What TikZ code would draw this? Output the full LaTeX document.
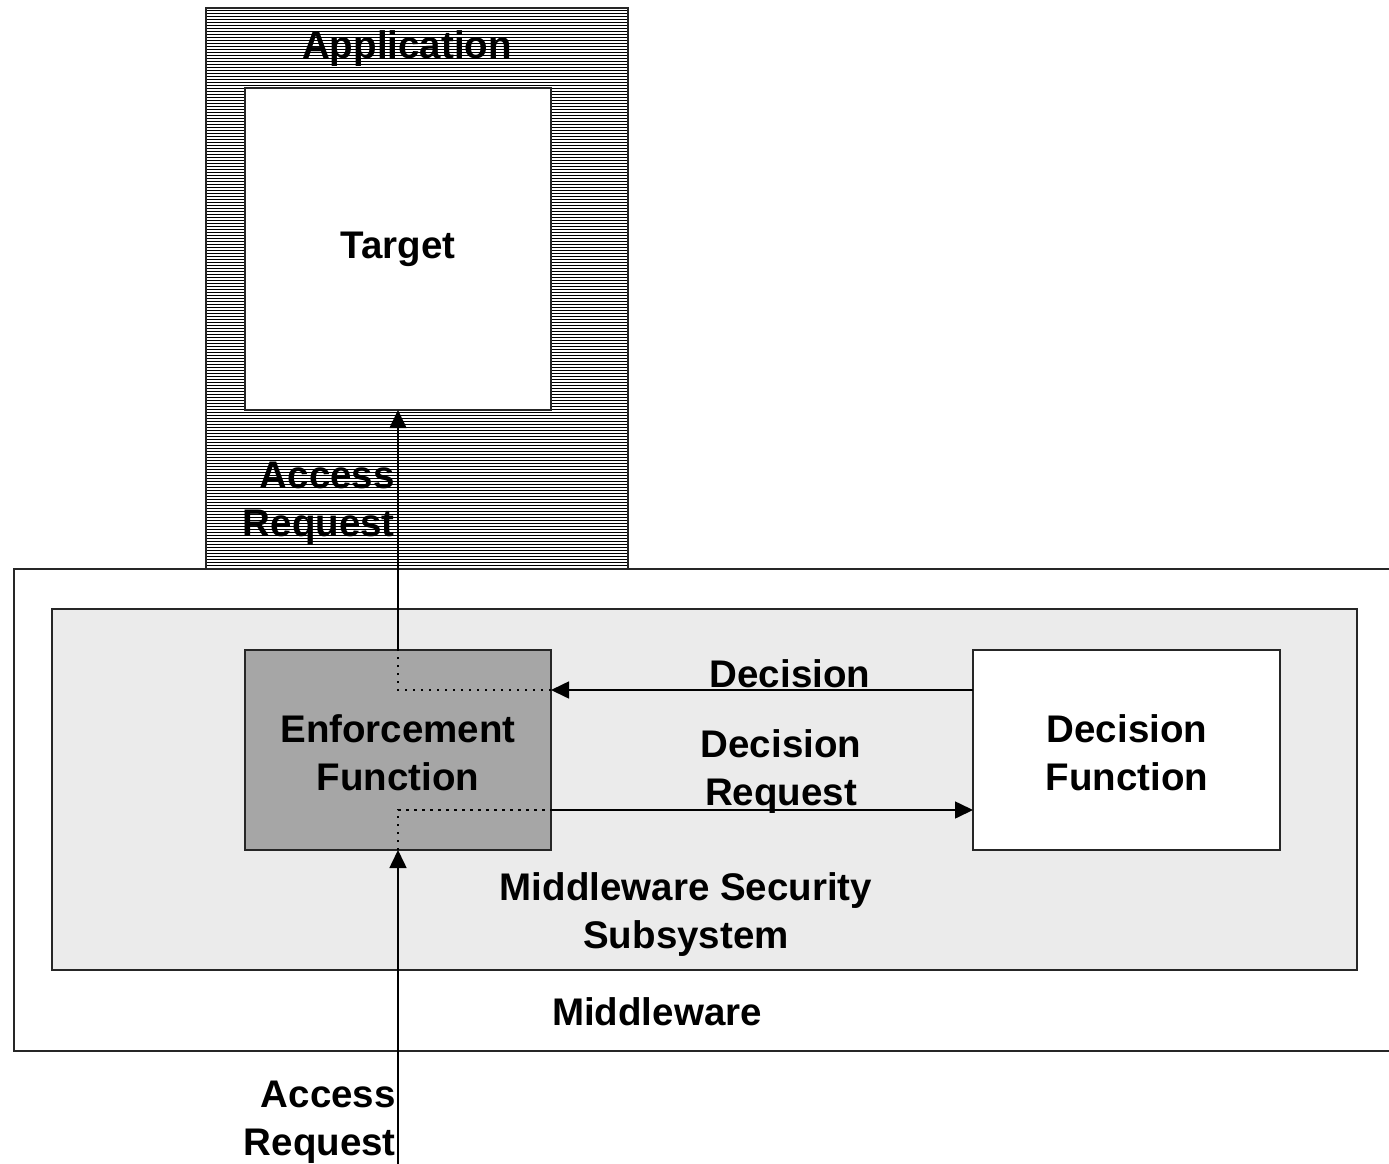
\documentclass[tikz,border=0pt]{standalone}
\usepackage{fontspec}
\setmainfont{Liberation Sans}
\usetikzlibrary{arrows.meta}
\begin{document}
\begin{tikzpicture}[x=1pt,y=-1pt,
  box/.style={draw=black!85,line width=1.5pt,inner sep=0pt,outer sep=0pt},
  lbl/.style={font=\bfseries\fontsize{38.5}{48}\selectfont,align=center,inner sep=0pt},
  lblr/.style={font=\bfseries\fontsize{38.5}{48}\selectfont,align=right,inner sep=0pt},
  conn/.style={line width=1.6pt,-{Triangle[length=18pt,width=17pt]}},
  dots/.style={line width=1.8pt,dash pattern=on 2.5pt off 5.5pt}]
\useasboundingbox (0,0) rectangle (1389,1164);
\fill[white] (0,0) rectangle (1389,1164);
% Application (hatched)
\node[box,fill=white,minimum width=422pt,minimum height=561pt] (app) at (417,288.5) {};
\begin{scope}
\clip (206,8) rectangle (628,569);
\foreach \yy in {10,13,...,568} \draw[line width=0.95pt,black] (206,\yy) -- (628,\yy);
\end{scope}
\draw[draw=black!85,line width=1.5pt] (206,8) rectangle (628,569);
\node[lbl] (applbl) at (407,49) {Application};
% Target
\node[box,fill=white,minimum width=306pt,minimum height=322pt] (target) at (398,249) {};
\node[lbl] (tgtlbl) at (398,249) {Target};
\node[lblr,anchor=east] (ar1) at (395,503) {Access\\Request};
% Middleware (open on the right)
\draw[draw=black!85,line width=1.5pt,fill=white] (1389,569) -- (14,569) -- (14,1051) -- (1389,1051);
\node[lbl] (mwlbl) at (657,1012) {Middleware};
% Middleware Security Subsystem
\node[box,fill=black!8,minimum width=1305pt,minimum height=361pt] (mss) at (704.5,789.5) {};
\node[lbl] (msslbl) at (686,915) {Middleware Security\\Subsystem};
% Enforcement and decision functions
\node[box,fill=black!35,minimum width=306pt,minimum height=200pt] (ef) at (398,750) {};
\node[lbl] (eflbl) at (398,753) {Enforcement\\Function};
\node[box,fill=white,minimum width=307pt,minimum height=200pt] (df) at (1126.5,750) {};
\node[lbl] (dflbl) at (1127,753) {Decision\\Function};
% connectors
\coordinate (inbot) at (398,1166);
\coordinate (reqbend) at (398,810);
\coordinate (efreq) at (551,810);
\coordinate (dfreq) at (973,810);
\coordinate (dfdec) at (973,690);
\coordinate (efdec) at (551,690);
\coordinate (decbend) at (398,690);
\draw[conn] (inbot) -- (ef.south);
\draw[dots] (ef.south) -- (reqbend) -- (efreq);
\draw[conn] (efreq) -- (dfreq);
\draw[conn] (dfdec) -- (efdec);
\draw[dots] (efdec) -- (decbend) -- (ef.north);
\draw[conn] (ef.north) -- (target.south);
\node[lbl] (declbl) at (790,674) {Decision};
\node[lbl] (dreqlbl) at (781,772) {Decision\\Request};
\node[lblr,anchor=east] (ar2) at (396,1122) {Access\\Request};
\end{tikzpicture}
\end{document}
